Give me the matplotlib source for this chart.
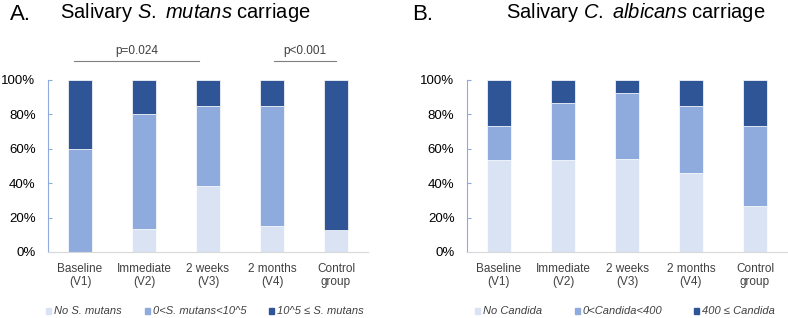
import numpy as np
import matplotlib.pyplot as plt
from matplotlib.patches import Rectangle

plt.rcParams['font.family'] = ['Liberation Sans', 'DejaVu Sans']
plt.rcParams['mathtext.fontset'] = 'custom'
plt.rcParams['mathtext.rm'] = 'Liberation Sans'
plt.rcParams['mathtext.it'] = 'Liberation Sans:italic'

categories = ['Baseline\n(V1)', 'Immediate\n(V2)', '2 weeks\n(V3)', '2 months\n(V4)', 'Control\ngroup']

# panel A: S. mutans (%)
a_none = [0, 13.3, 38.5, 15.4, 12.8]
a_low = [60, 66.7, 46.1, 69.2, 0]
a_high = [40, 20, 15.4, 15.4, 87.2]
a_labels = ['No S. mutans', '0<S. mutans<10^5', '10^5 \u2264 S. mutans']

# panel B: C. albicans (%)
b_none = [53.3, 53.3, 53.8, 46.2, 26.7]
b_low = [20, 33.4, 38.5, 38.5, 46.6]
b_high = [26.7, 13.3, 7.7, 15.3, 26.7]
b_labels = ['No Candida', '0<Candida<400', '400 \u2264 Candida']

colors = ['#DAE3F3', '#8FAADC', '#2F5597']

W, H = 788, 318
fig = plt.figure(figsize=(W / 100, H / 100), dpi=100)


def panel(left, right, series, labels, legend_x):
    ax = fig.add_axes([left / W, 1 - 252 / H, (right - left) / W, (252 - 80) / H])
    x = np.arange(len(categories))
    bottom = np.zeros(len(categories))
    for vals, c in zip(series, colors):
        ax.bar(x, vals, width=0.39, bottom=bottom, color=c, edgecolor='white', linewidth=0.5)
        bottom += np.array(vals)
    ax.set_xlim(-0.5, len(categories) - 0.5)
    ax.set_ylim(0, 100)
    ax.set_yticks(range(0, 101, 20))
    ax.set_yticklabels([f'{v}%' for v in range(0, 101, 20)], fontsize=9.5)
    ax.set_xticks(x)
    ax.set_xticklabels(categories, fontsize=8.5, color='#404040', linespacing=1.1)
    for s in ['top', 'right']:
        ax.spines[s].set_visible(False)
    ax.spines['left'].set_color('#8FAADC')
    ax.spines['bottom'].set_color('#D9D9D9')
    ax.tick_params(axis='y', direction='in', length=3, color='#8FAADC', pad=9)
    ax.tick_params(axis='x', length=0, pad=8)
    # legend drawn as figure text
    for lx, lab, c in zip(legend_x, labels, colors):
        fig.patches.append(Rectangle((lx / W, 1 - 314 / H), 5 / W, 6 / H,
                                     transform=fig.transFigure, color=c))
        fig.text((lx + 8) / W, 1 - 311 / H, lab, fontsize=8, style='italic',
                 va='center', ha='left', color='#404040')
    return ax


axA = panel(48, 368, [a_none, a_low, a_high], a_labels, [46, 145, 269])
axB = panel(467, 787, [b_none, b_low, b_high], b_labels, [475, 575, 694])

# titles
fig.text(10 / W, 1 - 14 / H, 'A.', fontsize=16, va='center')
fig.text(60 / W, 1 - 12 / H, 'Salivary $\\mathit{S.}$ $\\mathit{mutans}$ carriage', fontsize=14.5, va='center')
fig.text(412 / W, 1 - 14 / H, 'B.', fontsize=16, va='center')
fig.text(506 / W, 1 - 12 / H, 'Salivary $\\mathit{C.}$ $\\mathit{albicans}$ carriage', fontsize=14.5, va='center')

# significance brackets
for x0, x1, txt in [(74, 199, 'p=0.024'), (274, 336, 'p<0.001')]:
    fig.add_artist(plt.Line2D([x0 / W, x1 / W], [1 - 61 / H, 1 - 61 / H], color='#808080', lw=0.8))
    fig.text((x0 + x1) / 2 / W, 1 - 51 / H, txt, fontsize=8.5, ha='center', va='center', color='#404040')

fig.savefig('out.png', dpi=100)
